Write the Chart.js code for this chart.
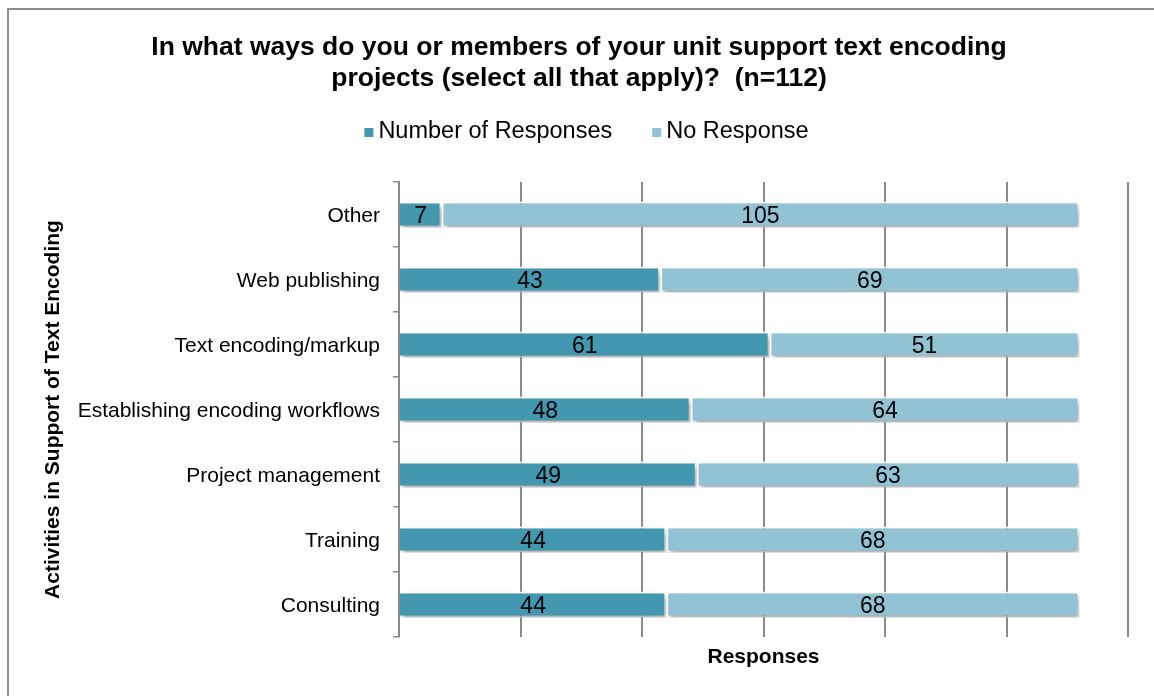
<!DOCTYPE html>
<html lang="en">
<head>
    <meta charset="UTF-8">
    <title>Text Encoding Support</title>
    <script src="https://cdn.jsdelivr.net/npm/chart.js"></script>
    <style>
        body { margin: 0; padding: 0; background: #fff; font-family: 'Liberation Sans', Arial, sans-serif; }
        .wrap { position: relative; width: 1154px; height: 696px; overflow: hidden; }
        .frame { position: absolute; left: 7px; top: 8px; right: -4px; bottom: -4px; border-top: 2px solid #8f8f8f; border-left: 2px solid #8f8f8f; }
        canvas { position: absolute; left: 0; top: 0; }
    </style>
</head>
<body>
    <div class="wrap">
        <div class="frame"></div>
        <canvas id="encodingChart" width="1154" height="696"></canvas>
    </div>
    <script>
        // Survey data (n=112)
        const categories = ['Other', 'Web publishing', 'Text encoding/markup', 'Establishing encoding workflows', 'Project management', 'Training', 'Consulting'];
        const responses = [7, 43, 61, 48, 49, 44, 44];
        const noResponse = [105, 69, 51, 64, 63, 68, 68];
        const xMax = 120;
        const xStep = 20;

        const FONT = "'Liberation Sans', Arial, sans-serif";
        const GRID = '#8a8a8a';

        // Soft drop shadow under the bars, then value labels in the middle of each segment
        const barDecor = {
            id: 'barDecor',
            beforeDatasetsDraw(chart) {
                const ctx = chart.ctx;
                ctx.save();
                ctx.shadowColor = 'rgba(0,0,0,0.35)';
                ctx.shadowBlur = 5;
                ctx.shadowOffsetX = 2;
                ctx.shadowOffsetY = 3;
            },
            afterDatasetsDraw(chart) {
                const ctx = chart.ctx;
                ctx.restore();
                ctx.save();
                ctx.font = '23px ' + FONT;
                ctx.fillStyle = '#000';
                ctx.textAlign = 'center';
                ctx.textBaseline = 'middle';
                chart.data.datasets.forEach((ds, i) => {
                    chart.getDatasetMeta(i).data.forEach((bar, j) => {
                        const p = bar.getCenterPoint();
                        ctx.fillText(String(ds.data[j]), p.x, p.y + 2);
                    });
                });
                ctx.restore();
            }
        };

        // Legend row: small square, short gap, label; centred under the title
        const squareLegend = {
            id: 'squareLegend',
            afterDraw(chart) {
                const ctx = chart.ctx;
                const box = 9, gap = 5, between = 40, y = 132;
                ctx.save();
                ctx.font = '23.5px ' + FONT;
                ctx.textBaseline = 'middle';
                const items = chart.data.datasets.map(ds => ({
                    text: ds.label,
                    color: ds.backgroundColor,
                    w: box + gap + ctx.measureText(ds.label).width
                }));
                const total = items.reduce((s, it) => s + it.w, 0) + between * (items.length - 1);
                let x = (chart.chartArea.left + chart.chartArea.right) / 2 - 177 - total / 2;
                items.forEach(it => {
                    ctx.fillStyle = it.color;
                    ctx.fillRect(x, y - 4, box, box);
                    ctx.fillStyle = '#000';
                    ctx.fillText(it.text, x + box + gap, y);
                    x += it.w + between;
                });
                ctx.restore();
            }
        };

        new Chart(document.getElementById('encodingChart'), {
            type: 'bar',
            data: {
                labels: categories,
                datasets: [{
                    label: 'Number of Responses',
                    data: responses,
                    backgroundColor: '#4398b0',
                    borderColor: '#ffffff',
                    borderWidth: 2,
                    borderSkipped: 'start',
                    barPercentage: 0.4,
                    categoryPercentage: 1
                }, {
                    label: 'No Response',
                    data: noResponse,
                    backgroundColor: '#92c3d4',
                    borderColor: '#ffffff',
                    borderWidth: 2,
                    borderSkipped: false,
                    barPercentage: 0.4,
                    categoryPercentage: 1
                }]
            },
            options: {
                indexAxis: 'y',
                responsive: false,
                animation: false,
                layout: { padding: { top: 10, left: 30, right: 26, bottom: 26 } },
                plugins: {
                    title: {
                        display: true,
                        text: ['In what ways do you or members of your unit support text encoding', 'projects (select all that apply)?  (n=112)'],
                        color: '#000',
                        font: { family: FONT, size: 26.5, weight: 'bold', lineHeight: 1.17 },
                        padding: { top: 22, bottom: 88 }
                    },
                    legend: { display: false },
                    tooltip: { enabled: false }
                },
                scales: {
                    x: {
                        stacked: true,
                        min: 0,
                        max: xMax,
                        ticks: { display: false, stepSize: xStep },
                        grid: { color: GRID, lineWidth: 2, drawTicks: false },
                        border: { display: false },
                        title: {
                            display: true,
                            text: 'Responses',
                            color: '#000',
                            font: { family: FONT, size: 21, weight: 'bold' },
                            padding: { top: 0, bottom: 0 }
                        },
                        afterFit(scale) { scale.height = 33; }
                    },
                    y: {
                        stacked: true,
                        ticks: { color: '#000', font: { family: FONT, size: 21 }, padding: 13, labelOffset: 2 },
                        grid: { offset: true, drawOnChartArea: false, drawTicks: true, tickLength: 6, color: GRID, lineWidth: 1.5 },
                        border: { display: true, color: GRID, width: 2 },
                        title: {
                            display: true,
                            text: 'Activities in Support of Text Encoding',
                            color: '#000',
                            font: { family: FONT, size: 21, weight: 'bold' },
                            padding: { top: 11, bottom: 0 }
                        },
                        afterFit(scale) { scale.width = 369; }
                    }
                }
            },
            plugins: [barDecor, squareLegend]
        });
    </script>
</body>
</html>
